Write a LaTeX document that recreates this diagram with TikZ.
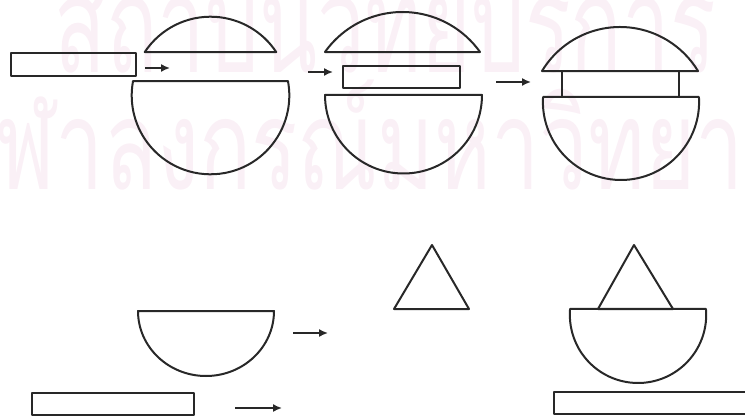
\documentclass[tikz,border=0pt]{standalone}
\usepackage{fontspec}
\newfontfamily\thaifont[Script=Thai]{Loma}
\usetikzlibrary{arrows.meta}
\definecolor{wm}{RGB}{250,240,246}
\definecolor{ink}{RGB}{40,40,40}
\begin{document}
\begin{tikzpicture}[x=1pt,y=-1pt, line join=round,
  shp/.style={draw=ink, line width=2pt},
  arr/.style={draw=ink, line width=1.6pt, -{Latex[length=9pt,width=8pt]}},
  wmtext/.style={text=wm, inner sep=0pt}]
\useasboundingbox (0,0) rectangle (745,417);
\clip (0,0) rectangle (745,417);
% watermark
\node[wmtext, font=\thaifont\fontsize{135}{135}\selectfont, anchor=base west] (wm1) at (54,73) {\scalebox{0.63}[1]{สถาบันวิทยบริการ}};
\node[wmtext, font=\thaifont\fontsize{125}{125}\selectfont, anchor=base west] (wm2) at (-54,190) {\scalebox{0.69}[1]{จุฬาลงกรณ์มหาวิทยาลัย}};
% group 1
\draw[shp] (11,53) rectangle (136,76);
\draw[shp] (210.5,95.5) ++(-146.6:78.8) arc[start angle=-146.6, end angle=-33.4, radius=78.8] -- cycle;
\draw[shp] (210.5,95.5) ++(-10.6:78.8) arc[start angle=-10.6, end angle=190.6, radius=78.8] -- cycle;
\coordinate (a1s) at (145,68); \coordinate (a1e) at (170,68);
\draw[arr] (a1s) -- (a1e);
% group 2
\coordinate (a2s) at (308,72); \coordinate (a2e) at (333,72);
\draw[arr] (a2s) -- (a2e);
\draw[shp] (402.5,107.1) ++(-144.6:95.1) arc[start angle=-144.6, end angle=-35.4, radius=95.1] -- cycle;
\draw[shp] (343,66) rectangle (460,88);
\draw[shp] (403.5,95) ++(0:78.5) arc[start angle=0, end angle=180, radius=78.5] -- cycle;
% group 3
\coordinate (a3s) at (496,82); \coordinate (a3e) at (531,82);
\draw[arr] (a3s) -- (a3e);
\draw[shp] (620,118.1) ++(-148.9:91.1) arc[start angle=-148.9, end angle=-31.1, radius=91.1] -- cycle;
\draw[shp] (562,71) rectangle (679,97);
\draw[shp] (621,101.9) ++(-3.6:78.1) arc[start angle=-3.6, end angle=183.6, radius=78.1] -- cycle;
% bottom row
\draw[shp] (138,311) -- (274,311) arc[start angle=0, end angle=180, x radius=68, y radius=65] -- cycle;
\coordinate (a4s) at (293,333); \coordinate (a4e) at (328,333);
\draw[arr] (a4s) -- (a4e);
\draw[shp] (32,393) rectangle (194,415);
\coordinate (a5s) at (235,408); \coordinate (a5e) at (282,408);
\draw[arr] (a5s) -- (a5e);
\draw[shp] (432,245) -- (469,309) -- (394,309) -- cycle;
\draw[shp] (634,245) -- (673,309) -- (598,309) -- cycle;
\draw[shp] (638,314.8) ++(-4.9:68.2) arc[start angle=-4.9, end angle=184.9, radius=68.2] -- cycle;
\draw[shp] (760,392) -- (554,392) -- (554,414) -- (760,414);
\end{tikzpicture}
\end{document}
